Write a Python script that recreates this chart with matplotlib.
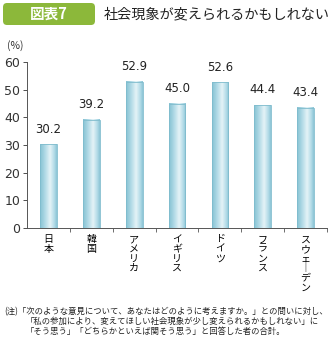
import matplotlib
matplotlib.use("Agg")
import matplotlib.pyplot as plt
import numpy as np
from matplotlib.patches import FancyBboxPatch
from matplotlib.colors import LinearSegmentedColormap

plt.rcParams['font.family'] = ['Noto Sans CJK JP', 'DejaVu Sans']

categories = ["日本", "韓国", "アメリカ", "イギリス", "ドイツ", "フランス", "スウェーデン"]
values = [30.2, 39.2, 52.9, 45.0, 52.6, 44.4, 43.4]
value_labels = ["30.2", "39.2", "52.9", "45.0", "52.6", "44.4", "43.4"]
yticks = [0, 10, 20, 30, 40, 50, 60]
title_tag = "図表7"
title = "社会現象が変えられるかもしれない"
unit = "(%)"
note_lines = [
    "(注)「次のような意見について、あなたはどのように考えますか。」との問いに対し、",
    "「私の参加により、変えてほしい社会現象が少し変えられるかもしれない」に",
    "「そう思う」「どちらかといえば関そう思う」と回答した者の合計。",
]

fig = plt.figure(figsize=(3.30, 3.42), dpi=100)
ax = fig.add_axes([27/330, 1-228/342, 300/330, (228-62)/342])

grad_cmap = LinearSegmentedColormap.from_list(
    "barg", [(0.0, "#86c2d3"), (0.25, "#a9d6e3"), (0.6, "#e4f3f7"), (0.85, "#b3dbe7"), (1.0, "#8cc5d6")])
grad = np.linspace(0, 1, 64).reshape(1, -1)

x = np.arange(len(categories))
bars = ax.bar(x, values, width=0.39, color="none", edgecolor="#7fbccd", linewidth=0.6, zorder=3)
for b in bars:
    x0, y0 = b.get_x(), b.get_y()
    w, h = b.get_width(), b.get_height()
    ax.imshow(grad, cmap=grad_cmap, extent=[x0, x0 + w, y0, y0 + h], aspect="auto", zorder=2,
              interpolation="bilinear")

for xi, v, lab in zip(x, values, value_labels):
    ax.text(xi, v + 3.2, lab, ha="center", va="bottom", fontsize=8.5, color="#222222",
            family=['DejaVu Sans'])

ax.set_xlim(-0.5, len(categories) - 0.5)
ax.set_ylim(0, 60)
ax.set_yticks(yticks)
ax.set_yticklabels([str(t) for t in yticks], fontsize=9, family=['DejaVu Sans'])
ax.set_xticks(np.arange(len(categories)) + 0.5)
ax.set_xticklabels([])
ax.tick_params(axis='x', direction='out', length=3, width=0.6, colors="#555555")
ax.tick_params(axis='y', direction='out', length=3, width=0.6, colors="#333333", pad=2)
ax.spines['top'].set_visible(False)
ax.spines['right'].set_visible(False)
for s in ['left', 'bottom']:
    ax.spines[s].set_linewidth(0.7)
    ax.spines[s].set_color("#555555")

for xi, c in zip(x, categories):
    vert = "\n".join(ch if ch != "ー" else "｜" for ch in c)
    ax.text(xi, -2.3, vert, ha="center", va="top", fontsize=7.2, linespacing=0.95,
            transform=ax.transData, clip_on=False)

# unit label
fig.text(7/330, 1 - 46/342, unit, fontsize=7.5, ha="left", va="center", color="#333333")

# title box
box = FancyBboxPatch((3/330, 1 - 25/342), 92/330, 22/342, boxstyle="round,pad=0,rounding_size=0.012",
                     transform=fig.transFigure, facecolor="#8cb83a", edgecolor="none")
fig.patches.append(box)
fig.text(49/330, 1 - 14/342, title_tag, color="white", fontsize=10.5, fontweight="bold",
         ha="center", va="center")
fig.text(104/330, 1 - 14/342, title, color="#222222", fontsize=10.2, ha="left", va="center")

for i, line in enumerate(note_lines):
    xpos = 4/330 if i == 0 else 26/330
    fig.text(xpos, 1 - (312 + i * 9.6)/342, line, fontsize=6.0, ha="left", va="center", color="#222222")

fig.savefig("out.png", dpi=100)
